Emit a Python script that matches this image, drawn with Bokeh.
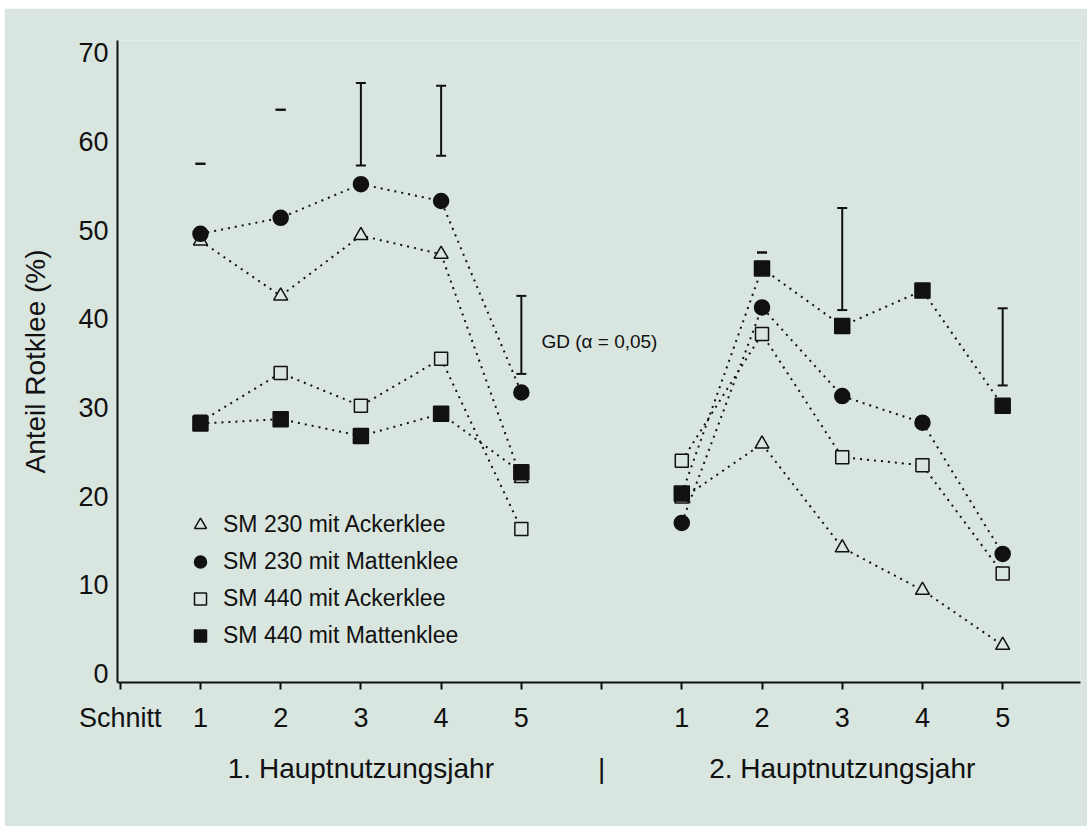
import math
from bokeh.plotting import figure
from bokeh.models import (ColumnDataSource, Whisker, TeeHead, Legend, LegendItem,
                          LinearAxis, FixedTicker, Range1d, Label)
from bokeh.embed import file_html
from bokeh.resources import INLINE

# ---------------- data ----------------
cuts = [1, 2, 3, 4, 5]
year_offsets = [0, 6]           # second year drawn after a gap
year_labels = ["1. Hauptnutzungsjahr", "2. Hauptnutzungsjahr"]
series_names = ["SM 230 mit Ackerklee", "SM 230 mit Mattenklee",
                "SM 440 mit Ackerklee", "SM 440 mit Mattenklee"]

# Anteil Rotklee (%) per Schnitt, 1. Hauptnutzungsjahr
sm230_acker_y1 = [48.8, 42.6, 49.4, 47.3, 22.0]
sm230_matten_y1 = [49.6, 51.4, 55.2, 53.3, 31.7]
sm440_acker_y1 = [28.4, 33.9, 30.2, 35.5, 16.3]
sm440_matten_y1 = [28.2, 28.7, 26.8, 29.3, 22.7]

# Anteil Rotklee (%) per Schnitt, 2. Hauptnutzungsjahr
sm230_acker_y2 = [19.7, 25.9, 14.2, 9.4, 3.2]
sm230_matten_y2 = [17.0, 41.3, 31.3, 28.3, 13.5]
sm440_acker_y2 = [24.0, 38.3, 24.4, 23.5, 11.3]
sm440_matten_y2 = [20.3, 45.7, 39.2, 43.2, 30.2]

# GD (alpha = 0,05) bars: lower / upper end
gd_lo_y1 = [57.5, 63.6, 57.3, 58.4, 33.8]
gd_hi_y1 = [57.5, 63.6, 66.6, 66.3, 42.6]
gd_lo_y2 = [None, 47.5, 41.0, None, 32.5]
gd_hi_y2 = [None, 47.5, 52.5, None, 41.2]

y_ticks = [0, 10, 20, 30, 40, 50, 60, 70]
gd_text = "GD (α = 0,05)"
cut_axis_title = "Schnitt"
y_title = "Anteil Rotklee (%)"

# ---------------- styling ----------------
BG = "#d9e5df"
FONT = "Liberation Sans"
INK = "#111111"

p = figure(width=1083, height=818,
           x_range=Range1d(-0.034, 11.97), y_range=Range1d(-1.0, 71.4),
           output_backend="svg", toolbar_location=None,
           min_border_left=113, min_border_right=7, min_border_top=32,
           min_border_bottom=144,
           background_fill_color=BG, border_fill_color=BG,
           outline_line_color=None)
p.margin = (8, 0, 0, 4)
p.grid.visible = False

# ---- y axis ----
ya = p.yaxis[0]
ya.ticker = FixedTicker(ticks=y_ticks)
ya.major_tick_out = 0
ya.major_tick_in = 0
ya.minor_tick_out = 0
ya.minor_tick_in = 0
ya.axis_line_width = 2
ya.axis_line_color = INK
ya.major_label_standoff = 9
ya.major_label_text_font = FONT
ya.major_label_text_font_size = "27px"
ya.major_label_text_color = INK
ya.axis_label = y_title
ya.axis_label_text_font = FONT
ya.axis_label_text_font_size = "28px"
ya.axis_label_text_font_style = "normal"
ya.axis_label_text_color = INK
ya.axis_label_standoff = 24

# ---- x axis with cut numbers ----
schnitt_pos = 0.0
tick_pos = [schnitt_pos]
overrides = {schnitt_pos: cut_axis_title}
for k, off in enumerate(year_offsets):
    for c in cuts:
        tick_pos.append(c + off)
        overrides[c + off] = str(c)
divider = (cuts[-1] + year_offsets[1] + cuts[0]) / 2.0
tick_pos.append(divider)
overrides[divider] = ""
xa = p.xaxis[0]
xa.ticker = FixedTicker(ticks=tick_pos)
xa.major_label_overrides = overrides
xa.major_tick_out = 7
xa.major_tick_in = 0
xa.major_tick_line_width = 2
xa.major_tick_line_color = INK
xa.minor_tick_out = 0
xa.minor_tick_in = 0
xa.axis_line_width = 2
xa.axis_line_color = INK
xa.major_label_standoff = 13
xa.major_label_text_font = FONT
xa.major_label_text_font_size = "27px"
xa.major_label_text_color = INK

# ---- second x axis with year labels ----
year_centers = [cuts[2] + off for off in year_offsets]
ya2_over = {year_centers[0]: year_labels[0], divider: "|", year_centers[1]: year_labels[1]}
xa2 = LinearAxis(ticker=FixedTicker(ticks=[year_centers[0], divider, year_centers[1]]),
                 major_label_overrides=ya2_over,
                 axis_line_color=None, major_tick_line_color=None,
                 minor_tick_line_color=None,
                 major_label_standoff=11,
                 major_label_text_font=FONT, major_label_text_font_size="28px",
                 major_label_text_color=INK)
p.add_layout(xa2, "below")

# ---- series ----
year1 = [sm230_acker_y1, sm230_matten_y1, sm440_acker_y1, sm440_matten_y1]
year2 = [sm230_acker_y2, sm230_matten_y2, sm440_acker_y2, sm440_matten_y2]
markers = ["triangle", "circle", "square", "square"]
fills = [BG, INK, BG, INK]
sizes = [14, 15, 13, 15]

legend_items = []
for i, name in enumerate(series_names):
    rend_for_legend = None
    for off, vals in zip(year_offsets, [year1[i], year2[i]]):
        src = ColumnDataSource(dict(x=[c + off for c in cuts], y=vals))
        p.line("x", "y", source=src, line_color=INK, line_width=2,
               line_dash="2 5")
        r = p.scatter("x", "y", source=src, marker=markers[i], size=sizes[i],
                      fill_color=fills[i], line_color=INK, line_width=1.5)
        if rend_for_legend is None:
            rend_for_legend = r
    legend_items.append(LegendItem(label=name, renderers=[rend_for_legend]))

legend = Legend(items=legend_items, location=(68, 28),
                padding=0, margin=0, spacing=0,
                glyph_width=30, glyph_height=37, label_height=37,
                label_standoff=8, label_text_font=FONT,
                label_text_font_size="23px", label_text_color=INK,
                border_line_color=None, background_fill_alpha=0)
p.add_layout(legend)

# ---- GD bars ----
gx, glo, ghi = [], [], []
for off, lo, hi in zip(year_offsets, [gd_lo_y1, gd_lo_y2], [gd_hi_y1, gd_hi_y2]):
    for c, l, h in zip(cuts, lo, hi):
        if l is None:
            continue
        gx.append(c + off)
        glo.append(l)
        ghi.append(h)
gsrc = ColumnDataSource(dict(x=gx, lo=glo, hi=ghi))
wh = Whisker(source=gsrc, base="x", lower="lo", upper="hi",
             line_color=INK, line_width=2,
             upper_head=TeeHead(size=10, line_color=INK, line_width=2),
             lower_head=TeeHead(size=10, line_color=INK, line_width=2))
p.add_layout(wh)

p.add_layout(Label(x=5.25, y=37.5, text=gd_text, text_font=FONT,
                   text_font_size="19px", text_color=INK,
                   text_baseline="middle", text_align="left"))

open("out.html", "w").write(file_html(p, INLINE))
